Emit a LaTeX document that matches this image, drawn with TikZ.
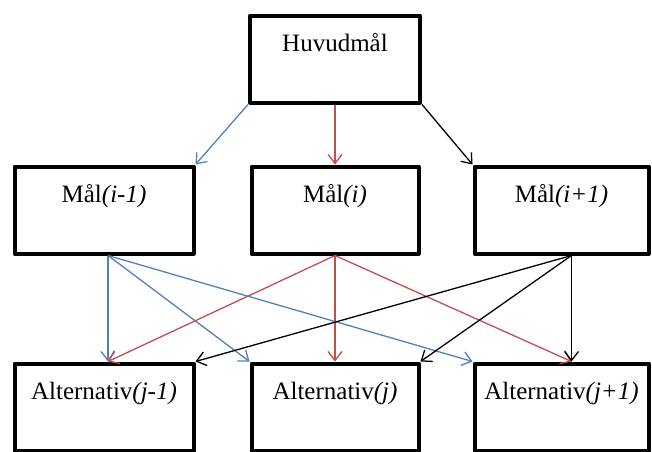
\documentclass[tikz,border=0pt]{standalone}
\usepackage{fontspec}
\setmainfont{Liberation Serif}
\usetikzlibrary{arrows.meta, positioning}
\definecolor{LinjeBla}{HTML}{4F81BD}
\definecolor{LinjeRod}{HTML}{C0504D}

\begin{document}
\begin{tikzpicture}[x=1pt, y=-1pt,
        % Stil för rutor
        malbox/.style={
                rectangle,
                draw=black,
                line width=4pt,
                line join=round,
                minimum height=87pt,
                minimum width=170pt,
                text height=18pt,
                text depth=33pt,
                font=\fontsize{25pt}{30pt}\selectfont
            },
        % Stil för pilar
        pil/.style={
                line width=1.3pt,
                -{Straight Barb[length=9pt, width=14pt]}
            }
    ]

    \useasboundingbox (0,0) rectangle (652,451);

    % HUVUDMÅL
    \node[malbox] (huvud) at (335,59) {Huvudmål};

    % MÅL
    \node[malbox, minimum width=167pt, below=60pt of huvud] (mal) {Mål\textit{(i)}};
    \node[malbox, minimum width=179pt, left=54pt of mal] (malvanster) {Mål\textit{(i-1)}};
    \node[malbox, minimum width=174pt, right=52pt of mal] (malhoger) {Mål\textit{(i+1)}};

    % ALTERNATIV
    \node[malbox, minimum width=167pt, below=106pt of mal] (alt) {Alternativ\textit{(j)}};
    \node[malbox, minimum width=179pt, below=106pt of malvanster] (altvanster) {Alternativ\textit{(j-1)}};
    \node[malbox, minimum width=174pt, below=106pt of malhoger] (althoger) {Alternativ\textit{(j+1)}};

    % Pilar från huvudmål
    \draw[pil, LinjeBla] (huvud.south west) -- (malvanster.north east);
    \draw[pil, LinjeRod] (huvud.south) -- (mal.north);
    \draw[pil, black] (huvud.south east) -- (malhoger.north west);

    % Pilar från mål(i-1)
    \draw[pil, LinjeBla] ([xshift=4pt]malvanster.south) -- ([xshift=4pt]altvanster.north);
    \draw[pil, LinjeBla] ([xshift=4pt]malvanster.south) -- (alt.north west);
    \draw[pil, LinjeBla] ([xshift=4pt]malvanster.south) -- (althoger.north west);

    % Pilar från mål(i)
    \draw[pil, LinjeRod] (mal.south) -- ([xshift=4pt]altvanster.north);
    \draw[pil, LinjeRod] (mal.south) -- (alt.north);
    \draw[pil, LinjeRod] (mal.south) -- ([xshift=10pt]althoger.north);

    % Pilar från mål(i+1)
    \draw[pil, black] ([xshift=10pt]malhoger.south) -- (altvanster.north east);
    \draw[pil, black] ([xshift=10pt]malhoger.south) -- (alt.north east);
    \draw[pil, black] ([xshift=10pt]malhoger.south) -- ([xshift=10pt]althoger.north);

\end{tikzpicture}
\end{document}
